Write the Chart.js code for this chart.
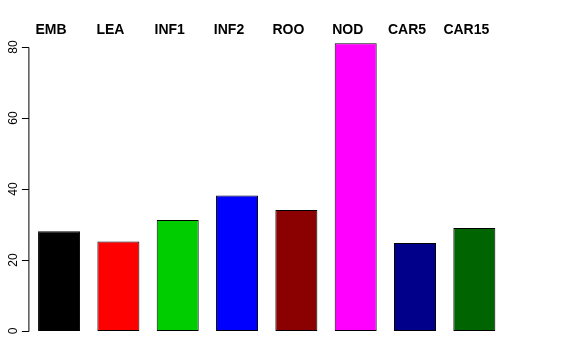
<!DOCTYPE html>
<html>
<head>
<meta charset="utf-8">
<script src="https://cdn.jsdelivr.net/npm/chart.js@4"></script>
<style>
  html, body { margin: 0; padding: 0; background: #fff; }
  #wrap { width: 576px; height: 360px; }
</style>
</head>
<body>
<div id="wrap"><canvas id="barChart" width="576" height="360"></canvas></div>
<script>
// data
var categories = ['EMB', 'LEA', 'INF1', 'INF2', 'ROO', 'NOD', 'CAR5', 'CAR15']
var values = [28.1, 25.2, 31.3, 38.2, 34.1, 81.1, 24.8, 29.0]
var barColors = ['#000000', '#FF0000', '#00CD00', '#0000FF', '#8B0000', '#FF00FF', '#00008B', '#006400']
var yTicks = [0, 20, 40, 60, 80]

var FONT = '"Liberation Sans", Arial, Helvetica, sans-serif'

// draws the R-style y axis and the category names above the bars
var rAxes = {
  id: 'rAxes',
  afterDraw: function (chart) {
    var ctx = chart.ctx
    var x = chart.scales.x
    var y = chart.scales.y
    var left = chart.chartArea.left

    ctx.save()
    ctx.strokeStyle = '#000'
    ctx.lineWidth = 1
    ctx.beginPath()
    ctx.moveTo(left - 0.5, Math.round(y.getPixelForValue(yTicks[0])) + 0.5)
    ctx.lineTo(left - 0.5, Math.round(y.getPixelForValue(yTicks[yTicks.length - 1])) + 0.5)
    yTicks.forEach(function (t) {
      var py = Math.round(y.getPixelForValue(t)) + 0.5
      ctx.moveTo(left - 0.5, py)
      ctx.lineTo(left - 7.5, py)
    })
    ctx.stroke()

    ctx.fillStyle = '#000'
    ctx.font = '12px ' + FONT
    ctx.textAlign = 'center'
    ctx.textBaseline = 'alphabetic'
    yTicks.forEach(function (t) {
      var py = y.getPixelForValue(t)
      ctx.save()
      ctx.translate(17, py)
      ctx.rotate(-Math.PI / 2)
      ctx.fillText(String(t), 0, 0)
      ctx.restore()
    })

    ctx.font = 'bold 14px ' + FONT
    categories.forEach(function (c, i) {
      ctx.fillText(c, x.getPixelForValue(i) - 8, 34)
    })
    ctx.restore()
  }
}

var ctx = document.getElementById('barChart').getContext('2d')
var chart = new Chart(ctx, {
  type: 'bar',
  data: {
    labels: categories,
    datasets: [{
      data: values,
      backgroundColor: barColors,
      borderColor: '#000',
      borderWidth: 1,
      borderSkipped: false,
      barPercentage: 0.708,
      categoryPercentage: 1
    }]
  },
  options: {
    responsive: false,
    animation: false,
    layout: { padding: { left: 0, right: 72, top: 40, bottom: 29 } },
    plugins: { legend: { display: false }, tooltip: { enabled: false } },
    scales: {
      x: { display: false, offset: true },
      y: {
        min: 0,
        max: 82,
        grid: { display: false },
        border: { display: false },
        ticks: { display: false },
        afterFit: function (scale) { scale.width = 29.4 }
      }
    }
  },
  plugins: [rAxes]
})
</script>
</body>
</html>
